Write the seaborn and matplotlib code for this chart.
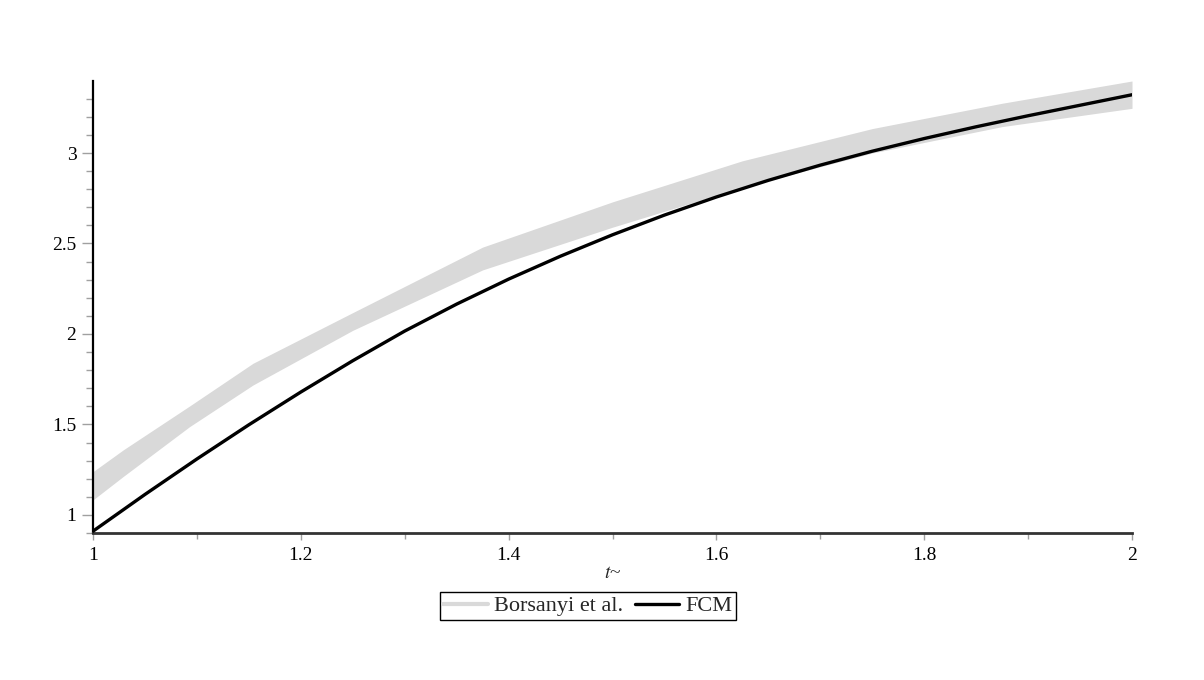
import numpy as np
import pandas as pd
import matplotlib
matplotlib.use("Agg")
import matplotlib.pyplot as plt
import seaborn as sns
from matplotlib.ticker import MultipleLocator
from matplotlib.lines import Line2D

# ---- data ----
band_x = [1.0, 1.029, 1.093, 1.154, 1.25, 1.375, 1.5, 1.625, 1.75, 1.875, 2.0]
band_upper = [1.239, 1.359, 1.602, 1.838, 2.118, 2.48, 2.73, 2.957, 3.135, 3.275, 3.398]
band_lower = [1.083, 1.212, 1.488, 1.718, 2.02, 2.354, 2.59, 2.81, 3.0, 3.146, 3.247]

fcm_x = [1.0, 1.05, 1.1, 1.15, 1.2, 1.25, 1.3, 1.35, 1.4, 1.45, 1.5,
         1.55, 1.6, 1.65, 1.7, 1.75, 1.8, 1.85, 1.9, 1.95, 2.0]
fcm_y = [0.91, 1.113, 1.309, 1.498, 1.679, 1.852, 2.016, 2.165, 2.303, 2.43, 2.548,
         2.657, 2.757, 2.849, 2.933, 3.01, 3.08, 3.145, 3.206, 3.264, 3.322]

x_ticks = [1.0, 1.2, 1.4, 1.6, 1.8, 2.0]
x_ticklabels = ["1", "1.2", "1.4", "1.6", "1.8", "2"]
y_ticks = [1.0, 1.5, 2.0, 2.5, 3.0]
y_ticklabels = ["1", "1.5", "2", "2.5", "3"]
labels = ["Borsanyi et al.", "FCM"]

sns.set_theme(style="white")
plt.rcParams['font.family'] = ['Liberation Serif', 'DejaVu Serif']
plt.rcParams['mathtext.fontset'] = 'stix'

fig = plt.figure(figsize=(12.04, 6.8), dpi=100)
ax = fig.add_axes([93/1204, 1-533/680, (1132-93)/1204, (533-81)/680])

ax.fill_between(band_x, band_lower, band_upper, color='#d9d9d9', lw=0, zorder=1)
df = pd.DataFrame({"t": fcm_x, "v": fcm_y})
sns.lineplot(data=df, x="t", y="v", ax=ax, color='black', lw=2.4, zorder=3)

ax.set_xlim(1.0, 2.0)
ax.set_ylim(0.9, 3.398)
ax.set_xticks(x_ticks)
ax.set_xticklabels(x_ticklabels)
ax.set_yticks(y_ticks)
ax.set_yticklabels(y_ticklabels)
ax.xaxis.set_minor_locator(MultipleLocator(0.1))
ax.yaxis.set_minor_locator(MultipleLocator(0.1))

for s in ['top', 'right']:
    ax.spines[s].set_visible(False)
ax.spines['left'].set_color('black')
ax.spines['left'].set_linewidth(1.6)
ax.spines['bottom'].set_color('#333333')
ax.spines['bottom'].set_linewidth(2.0)

ax.tick_params(axis='y', which='major', direction='out', length=8, width=1,
               color='#a0a0a0', labelsize=14, labelcolor='black', pad=4, left=True)
ax.tick_params(axis='y', which='minor', direction='out', length=5, width=1,
               color='#a0a0a0', left=True)
ax.tick_params(axis='x', which='major', direction='out', length=5, width=1,
               color='#a0a0a0', labelsize=14, labelcolor='black', pad=5, bottom=True)
ax.tick_params(axis='x', which='minor', direction='out', length=4, width=1,
               color='#a0a0a0', bottom=True)

ax.set_xlabel(r'$t$~', fontsize=14, labelpad=1)
ax.set_ylabel('')

handles = [Line2D([], [], color='#d9d9d9', lw=3),
           Line2D([], [], color='black', lw=2.4)]
leg = fig.legend(handles, labels, loc='center',
                 bbox_to_anchor=(588/1204, 1-606/680), ncol=2,
                 frameon=True, fancybox=False, edgecolor='black', framealpha=1,
                 handlelength=2.0, columnspacing=0.5, handletextpad=0.3,
                 borderpad=0.15, borderaxespad=0.2, fontsize=16)
leg.get_frame().set_linewidth(1.0)

fig.savefig("out.png", dpi=100, facecolor='white')
